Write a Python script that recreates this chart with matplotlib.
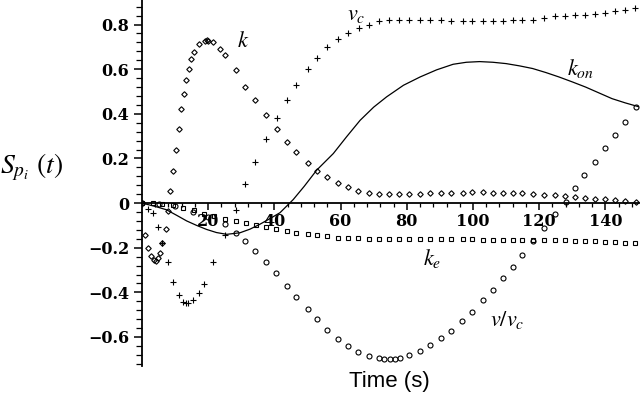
import numpy as np
import matplotlib
matplotlib.use('Agg')
import matplotlib.pyplot as plt
from matplotlib.ticker import MultipleLocator, FixedLocator, FuncFormatter

plt.rcParams['mathtext.fontset'] = 'stix'

# k (diamonds)
k_t = [0, 0.9, 1.7, 2.6, 3.6, 4.2, 4.9, 5.4, 6.1, 7.2, 7.9, 8.5, 9.3, 10.2, 11.2, 11.8,
       12.6, 13.3, 14.1, 14.7, 15.8, 17.3, 19.0, 19.5, 20.0, 21.5, 23.5, 25.1, 28.3, 31.2,
       34.2, 37.5, 40.7, 43.9, 46.4, 50.2, 52.8, 55.8, 59.3, 62.3, 65.4, 68.7, 71.7, 74.7,
       77.7, 80.8, 84, 87, 90.2, 93.3, 96.9, 99.8, 103.1, 105.9, 109, 112, 114.9, 118.2,
       121.5, 124.8, 127.8, 130.8, 133.8, 136.9, 139.9, 142.9, 145.9, 149.2]
k_y = [0, -0.145, -0.2, -0.237, -0.256, -0.26, -0.248, -0.222, -0.178, -0.118, -0.036, 0.054,
       0.145, 0.24, 0.33, 0.42, 0.49, 0.55, 0.6, 0.644, 0.677, 0.715, 0.728, 0.73, 0.728, 0.72,
       0.69, 0.665, 0.595, 0.52, 0.46, 0.394, 0.33, 0.274, 0.23, 0.18, 0.145, 0.115, 0.09, 0.07,
       0.054, 0.046, 0.039, 0.04, 0.04, 0.04, 0.041, 0.043, 0.045, 0.046, 0.047, 0.048, 0.048,
       0.047, 0.046, 0.045, 0.043, 0.04, 0.037, 0.034, 0.03, 0.027, 0.024, 0.02, 0.017, 0.013,
       0.009, 0.005]

# v_c (plus signs)
vc_t = [0, 1.9, 3.4, 4.9, 6.1, 7.9, 9.3, 11.2, 12.5, 13.2, 14.0, 15.5, 17.3, 18.7, 21.5, 25.1,
        28.3, 31.2, 34.2, 37.5, 40.7, 43.9, 46.4, 50.2, 52.8, 56, 59.3, 62.3, 65.6, 68.7, 71.7,
        74.7, 77.7, 80.8, 84, 87, 90.2, 93.3, 96.9, 99.8, 103.1, 105.9, 109, 112, 114.9, 118.2,
        121.5, 124.8, 127.8, 130.8, 133.8, 136.9, 139.9, 142.9, 145.9, 148.9]
vc_y = [0, -0.028, -0.046, -0.106, -0.178, -0.264, -0.352, -0.41, -0.445, -0.449, -0.447,
        -0.434, -0.404, -0.364, -0.264, -0.145, -0.031, 0.085, 0.182, 0.285, 0.382, 0.464,
        0.531, 0.60, 0.652, 0.70, 0.734, 0.764, 0.786, 0.80, 0.814, 0.822, 0.822, 0.822, 0.819,
        0.819, 0.819, 0.816, 0.816, 0.816, 0.816, 0.816, 0.816, 0.819, 0.819, 0.822, 0.830,
        0.837, 0.838, 0.841, 0.841, 0.849, 0.853, 0.861, 0.866, 0.875]

# k_on (solid line)
kon_t = [0, 4, 7.4, 10.5, 13.5, 16.5, 19.5, 22.5, 25.6, 29.6, 32.6, 35.6, 38.6, 41.7, 45.7,
         49, 52.8, 57.8, 61.8, 65.9, 70, 73.9, 79, 84, 89, 94, 98, 102, 106, 110, 114, 118,
         122, 126, 130, 134, 138, 142, 146, 150]
kon_y = [0, -0.015, -0.03, -0.055, -0.08, -0.1, -0.118, -0.132, -0.14, -0.133, -0.117, -0.095,
         -0.07, -0.043, 0.016, 0.075, 0.148, 0.222, 0.297, 0.371, 0.43, 0.476, 0.528, 0.565,
         0.597, 0.622, 0.631, 0.634, 0.631, 0.625, 0.615, 0.603, 0.585, 0.565, 0.543, 0.52,
         0.494, 0.468, 0.449, 0.432]

# k_e (squares)
ke_t = [0, 3.3, 6.1, 9.5, 12.5, 15.7, 18.8, 21.8, 25.1, 28.3, 31.3, 34.4, 37.4, 40.5, 43.8,
        46.6, 50.3, 52.8, 55.8, 59.3, 62.3, 65.4, 68.7, 71.7, 74.7, 77.7, 80.8, 84, 87, 90.2,
        93.3, 96.9, 99.8, 103.1, 105.9, 109, 112, 114.9, 118.2, 121.5, 124.8, 127.8, 130.8,
        133.8, 136.9, 139.9, 142.9, 145.9, 148.9]
ke_y = [0, 0, -0.003, -0.01, -0.02, -0.03, -0.05, -0.06, -0.07, -0.08, -0.09, -0.1, -0.108,
        -0.118, -0.124, -0.133, -0.14, -0.143, -0.148, -0.155, -0.155, -0.155, -0.16, -0.16,
        -0.16, -0.16, -0.163, -0.163, -0.163, -0.163, -0.163, -0.163, -0.163, -0.167, -0.167,
        -0.167, -0.167, -0.167, -0.167, -0.167, -0.167, -0.167, -0.170, -0.170, -0.170,
        -0.1745, -0.1745, -0.178, -0.178]

# v/v_c (circles)
vr_t = [0, 5, 10, 15.5, 20, 25.1, 28.3, 31.1, 34.1, 37.4, 40.5, 43.9, 46.4, 50, 52.8, 56, 59.3,
        62.3, 65.4, 68.7, 71.5, 73.2, 74.8, 76.4, 78, 80.8, 84, 87, 90.2, 93.3, 96.8, 99.8,
        103.1, 105.9, 109, 112, 114.9, 118.2, 121.5, 124.8, 128, 130.8, 133.6, 136.9, 139.9,
        142.9, 145.9, 149.2]
vr_y = [0, -0.003, -0.012, -0.039, -0.062, -0.095, -0.133, -0.17, -0.215, -0.262, -0.315,
        -0.371, -0.419, -0.476, -0.518, -0.568, -0.607, -0.64, -0.667, -0.684, -0.695, -0.697,
        -0.697, -0.697, -0.695, -0.68, -0.662, -0.637, -0.603, -0.573, -0.528, -0.488, -0.436,
        -0.39, -0.334, -0.286, -0.233, -0.17, -0.113, -0.05, 0.004, 0.066, 0.125, 0.185, 0.245,
        0.304, 0.364, 0.431]

fig = plt.figure(figsize=(6.4, 3.96), dpi=100)
ax = fig.add_axes([142 / 640, 1 - 366 / 396, (638.5 - 142) / 640, 366 / 396])

mk = dict(linestyle='none', color='black', markerfacecolor='none', markeredgewidth=0.8)
ax.plot(k_t, k_y, marker='D', markersize=2.8, **mk)
ax.plot(vc_t, vc_y, marker='+', markersize=5, **mk)
ax.plot(ke_t, ke_y, marker='s', markersize=3.3, **mk)
ax.plot(vr_t, vr_y, marker='o', markersize=3.6, **mk)
ax.plot(kon_t, kon_y, color='black', linewidth=0.9)

ax.set_xlim(0, 150)
ax.set_ylim(-0.73, 0.91)

ax.spines['left'].set_position(('data', 0))
ax.spines['bottom'].set_position(('data', 0))
ax.spines['top'].set_visible(False)
ax.spines['right'].set_visible(False)
for s in ('left', 'bottom'):
    ax.spines[s].set_linewidth(1.3)

ax.xaxis.set_major_locator(FixedLocator([20, 40, 60, 80, 100, 120, 140]))
ax.xaxis.set_minor_locator(MultipleLocator(4))
ax.yaxis.set_major_locator(FixedLocator([-0.6, -0.4, -0.2, 0, 0.2, 0.4, 0.6, 0.8]))
ax.yaxis.set_minor_locator(MultipleLocator(0.04))


def yfmt(v, pos):
    if abs(v) < 1e-9:
        return '0'
    return ('%.1f' % v).replace('-', '\u2212')


ax.yaxis.set_major_formatter(FuncFormatter(yfmt))
ax.tick_params(axis='x', which='major', direction='out', length=5, width=1.1, pad=2)
ax.tick_params(axis='x', which='minor', direction='out', length=3, width=0.9)
ax.tick_params(axis='y', which='major', direction='out', length=6, width=1.1, pad=3)
ax.tick_params(axis='y', which='minor', direction='out', length=4, width=0.9)
for lab in ax.get_xticklabels() + ax.get_yticklabels():
    lab.set_fontfamily('DejaVu Serif')
    lab.set_fontweight('bold')
    lab.set_fontsize(11.5)

# curve labels
ax.text(30.5, 0.725, r'$k$', fontsize=16, ha='center', va='center')
ax.text(62.0, 0.845, r'$v_c$', fontsize=16, ha='left', va='center')
ax.text(128.4, 0.605, r'$k_{on}$', fontsize=16, ha='left', va='center')
ax.text(84.9, -0.25, r'$k_e$', fontsize=16, ha='left', va='center')
ax.text(105.1, -0.525, r'$v/v_c$', fontsize=16, ha='left', va='center')

fig.text(389 / 640, 1 - 382 / 396, 'Time (s)', fontsize=16, family='Liberation Sans',
         ha='center', va='center')
fig.text(0.0, 1 - 173 / 396, r'$S_{p_i}\ (t)$', fontsize=20, ha='left', va='baseline')

fig.savefig('out.png', dpi=100)
